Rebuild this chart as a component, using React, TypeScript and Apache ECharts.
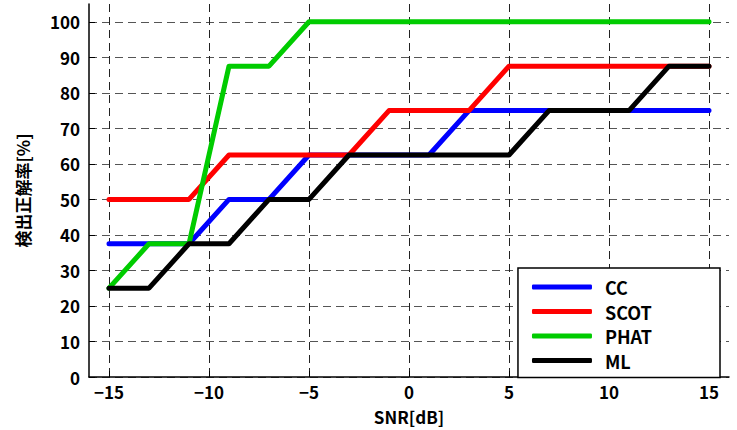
import React, { useEffect, useRef } from "react";
import * as echarts from "echarts";

const snr = [-15, -13, -11, -9, -7, -5, -3, -1, 1, 3, 5, 7, 9, 11, 13, 15];
const cc = [37.5, 37.5, 37.5, 50, 50, 62.5, 62.5, 62.5, 62.5, 75, 75, 75, 75, 75, 75, 75];
const scot = [50, 50, 50, 62.5, 62.5, 62.5, 62.5, 75, 75, 75, 87.5, 87.5, 87.5, 87.5, 87.5, 87.5];
const phat = [25, 37.5, 37.5, 87.5, 87.5, 100, 100, 100, 100, 100, 100, 100, 100, 100, 100, 100];
const ml = [25, 25, 37.5, 37.5, 50, 50, 62.5, 62.5, 62.5, 62.5, 62.5, 75, 75, 75, 87.5, 87.5];
const xTicks = [-15, -10, -5, 0, 5, 10, 15];
const yTicks = [0, 10, 20, 30, 40, 50, 60, 70, 80, 90, 100];

const FONT = "'Noto Sans CJK JP', 'DejaVu Sans', sans-serif";

export default function App() {
  const ref = useRef<HTMLDivElement>(null);
  useEffect(() => {
    if (!ref.current) return;
    const chart = echarts.init(ref.current, undefined, { renderer: "svg" });
    const mk = (name: string, data: number[], color: string) => ({
      name,
      type: "line",
      data: snr.map((x, i) => [x, data[i]]),
      showSymbol: false,
      symbol: "none",
      color,
      itemStyle: { color },
      lineStyle: { width: 5, color, cap: "round", join: "round" },
    });
    chart.setOption({
      animation: false,
      grid: { left: 89, right: 8, top: 4, bottom: 50 },
      xAxis: {
        type: "value",
        min: -16,
        max: 16,
        name: "SNR[dB]",
        nameLocation: "middle",
        nameGap: 31,
        nameTextStyle: { fontFamily: FONT, fontWeight: "bold", fontSize: 17, color: "#000" },
        axisLine: { show: true, onZero: false, lineStyle: { color: "#000", width: 1.5 } },
        axisTick: { show: true, inside: true, length: 6, customValues: xTicks, lineStyle: { color: "#000" } },
        axisLabel: {
          customValues: xTicks,
          fontFamily: FONT,
          fontWeight: "bold",
          fontSize: 17,
          color: "#000",
          margin: 6,
          formatter: (v: number) => (v < 0 ? "\u2212" + Math.abs(v) : String(v)),
        },
        splitLine: { show: true, lineStyle: { color: "#222", type: [8, 5], width: 1 } },
      },
      yAxis: {
        type: "value",
        min: 0,
        max: 105,
        name: "検出正解率[%]",
        nameLocation: "middle",
        nameGap: 58,
        nameTextStyle: { fontFamily: FONT, fontWeight: "bold", fontSize: 17, color: "#000" },
        axisLine: { show: true, onZero: false, lineStyle: { color: "#000", width: 1.5 } },
        axisTick: { show: true, inside: true, length: 6, customValues: yTicks, lineStyle: { color: "#000" } },
        axisLabel: {
          customValues: yTicks,
          fontFamily: FONT,
          fontWeight: "bold",
          fontSize: 17,
          color: "#000",
          margin: 9,
        },
        splitLine: { show: true, lineStyle: { color: "#555", type: [8, 5], width: 1 } },
      },
      legend: {
        orient: "vertical",
        right: 17,
        top: 268,
        icon: "roundRect",
        itemWidth: 60,
        itemHeight: 5,
        itemGap: 4.5,
        padding: [9, 68, 7, 14],
        borderColor: "#000",
        borderWidth: 1.5,
        backgroundColor: "#fff",
        textStyle: {
          fontFamily: FONT,
          fontWeight: "bold",
          fontSize: 18,
          lineHeight: 20,
          color: "#000",
          padding: [0, 0, 0, 8],
        },
        data: ["CC", "SCOT", "PHAT", "ML"],
      },
      series: [
        mk("CC", cc, "#0000ff"),
        mk("SCOT", scot, "#ff0000"),
        mk("PHAT", phat, "#00cc00"),
        mk("ML", ml, "#000000"),
      ],
    });
    return () => chart.dispose();
  }, []);
  return <div ref={ref} style={{ width: 737, height: 430, position: "absolute", left: 0, top: 0 }} />;
}
